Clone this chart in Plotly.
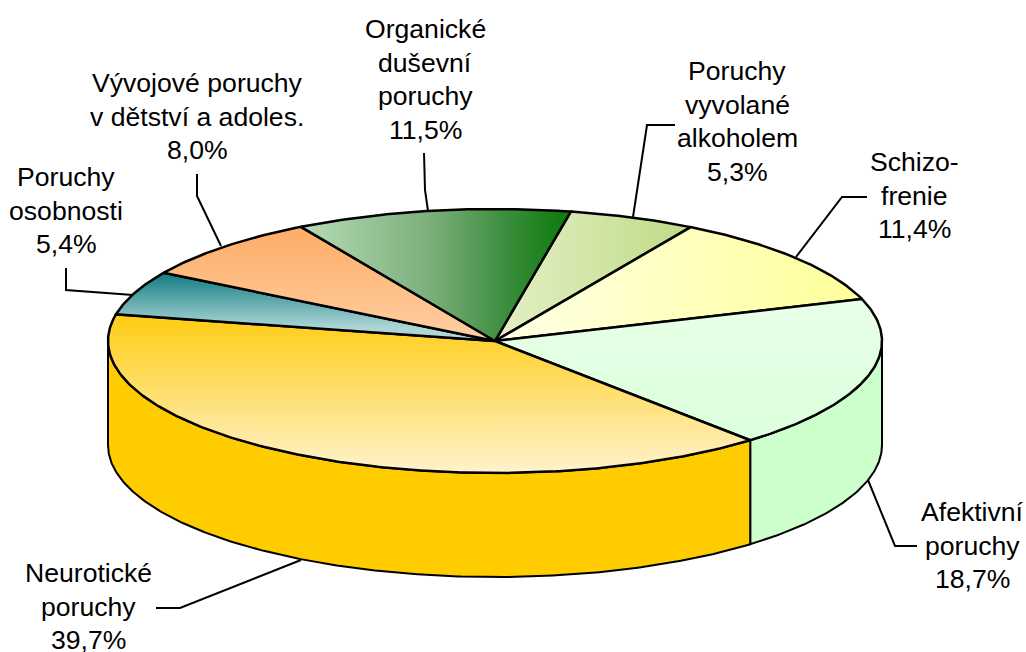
import math
import numpy as np
import plotly.graph_objects as go

categories = ["Poruchy vyvolané alkoholem", "Schizofrenie", "Afektivní poruchy",
              "Neurotické poruchy", "Poruchy osobnosti",
              "Vývojové poruchy v dětství a adoles.", "Organické duševní poruchy"]
values = [5.3, 11.4, 18.7, 39.7, 5.4, 8.0, 11.5]
label_lines = [["Poruchy", "vyvolané", "alkoholem"], ["Schizo-", "frenie"], ["Afektivní", "poruchy"],
               ["Neurotické", "poruchy"], ["Poruchy", "osobnosti"],
               ["Vývojové poruchy", "v dětství a adoles."], ["Organické", "duševní", "poruchy"]]

# pie geometry (pixel-based axes)
CX, CY, A, B, DEPTH = 495, 341, 387, 132, 104
START = 11.3
# (gradient direction, colour stops, gradient start, gradient stop)
fills = [("horizontal", [[0, "#e4f0c6"], [1, "#bedb86"]], 495, 692),
         ("horizontal", [[0, "#ffffe6"], [1, "#ffff99"]], 495, 862),
         ("vertical", [[0, "#e8ffe8"], [1, "#dcffdc"]], 300, 440),
         ("vertical", [[0, "#ffcc11"], [1, "#fff2cc"]], 314, 472),
         ("vertical", [[0, "#0c7a80"], [1, "#aed6d6"]], 272, 328),
         ("vertical", [[0, "#ffac66"], [1, "#ffcfa3"]], 227, 340),
         ("horizontal", [[0, "#b6dbb6"], [0.5, "#78ad78"], [0.75, "#3f8f40"], [1, "#0c7a0c"]], 303, 568)]
wall_colors = {2: "#ccffcc", 3: "#ffcc00"}
label_pos = [(737, 71), (914, 162), (972, 512), (88, 573), (66, 177), (197, 83), (425, 29)]
LINE_GAP = 33.7
leaders = [[(675, 125), (647, 125), (633, 217)],
           [(867, 197), (842, 197), (796, 257)],
           [(917, 546), (895, 546), (868, 480)],
           [(156, 608), (180, 608), (301, 560)],
           [(66, 268), (66, 290), (133, 295)],
           [(197, 174), (197, 196), (221, 246)],
           [(424, 153), (425, 190), (428, 211)]]


def edge(a0, a1, dy=0.0):
    t = np.radians(np.linspace(a0, a1, max(int(abs(a1 - a0) * 2), 2)))
    return CX + A * np.sin(t), CY - B * np.cos(t) + dy


edges = START + np.concatenate([[0], np.cumsum(values)]) * 3.6
fig = go.Figure()

# side walls: the visible rim runs from 90 deg to 270 deg
for i, col in wall_colors.items():
    a0, a1 = max(edges[i], 90), min(edges[i + 1], 270)
    xt, yt = edge(a0, a1)
    xb, yb = edge(a1, a0, DEPTH)
    fig.add_trace(go.Scatter(x=np.r_[xt, xb, xt[0]], y=np.r_[yt, yb, yt[0]], mode="lines",
                             fill="toself", fillcolor=col, line=dict(color="black", width=2),
                             hoverinfo="skip", showlegend=False))

# top faces
for i, (cat, fl) in enumerate(zip(categories, fills)):
    xs, ys = edge(edges[i], edges[i + 1])
    fig.add_trace(go.Scatter(x=np.r_[CX, xs, CX], y=np.r_[CY, ys, CY], mode="lines", name=cat,
                             fill="toself", line=dict(color="black", width=2.5),
                             fillgradient=dict(type=fl[0], colorscale=fl[1], start=fl[2], stop=fl[3]),
                             hoverinfo="skip", showlegend=False))

# leader lines
for pts in leaders:
    fig.add_trace(go.Scatter(x=[p[0] for p in pts], y=[p[1] for p in pts], mode="lines",
                             line=dict(color="black", width=2), hoverinfo="skip", showlegend=False))

# labels
for lines, v, (lx, ly) in zip(label_lines, values, label_pos):
    for k, txt in enumerate(lines + [f"{v:.1f}".replace(".", ",") + "%"]):
        fig.add_annotation(x=lx, y=ly + k * LINE_GAP, text=txt, showarrow=False, xanchor="center",
                           yanchor="middle", font=dict(family="Liberation Sans", size=26.6, color="black"))

fig.update_xaxes(range=[0, 1026], visible=False, fixedrange=True)
fig.update_yaxes(range=[652, 0], visible=False, fixedrange=True)
fig.update_layout(width=1026, height=652, margin=dict(l=0, r=0, t=0, b=0),
                  paper_bgcolor="white", plot_bgcolor="white", showlegend=False)
fig.write_html("out.html", post_script="document.body.style.margin='0';document.body.style.overflow='hidden';",
               config=dict(displayModeBar=False))
